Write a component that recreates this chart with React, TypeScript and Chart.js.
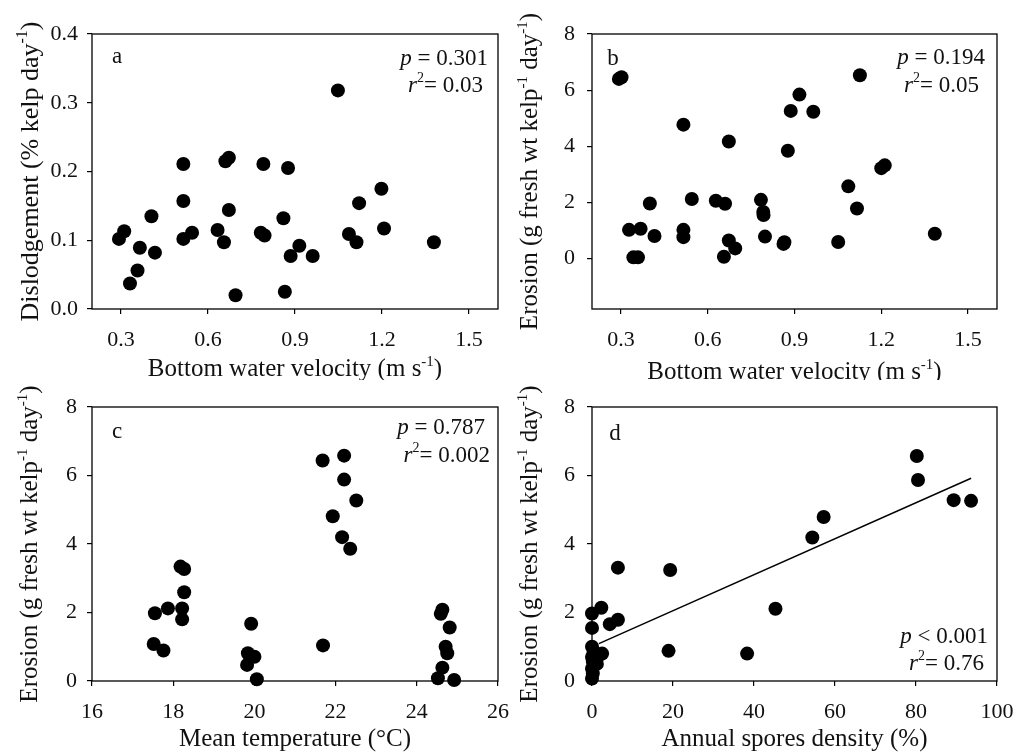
import React, { useEffect, useRef } from "react";
import { Chart, registerables } from "chart.js";

Chart.register(...registerables);

const FONT = '"Liberation Serif", "Times New Roman", serif';

// (a) dislodgement vs bottom water velocity
const aVelocity = [0.293, 0.311, 0.331, 0.357, 0.365, 0.405, 0.417, 0.515, 0.515, 0.515, 0.545, 0.633, 0.655, 0.66, 0.672, 0.672, 0.695, 0.782, 0.795, 0.791, 0.86, 0.876, 0.865, 0.885, 0.915, 0.961, 1.048, 1.086, 1.112, 1.121, 1.198, 1.207, 1.379];
const aDislodgement = [0.102, 0.113, 0.037, 0.056, 0.089, 0.135, 0.082, 0.211, 0.157, 0.102, 0.111, 0.115, 0.097, 0.215, 0.22, 0.144, 0.02, 0.111, 0.107, 0.211, 0.132, 0.205, 0.025, 0.077, 0.092, 0.077, 0.318, 0.109, 0.097, 0.154, 0.175, 0.117, 0.097];

// (b) erosion vs bottom water velocity
const bVelocity = [0.293, 0.302, 0.328, 0.343, 0.359, 0.368, 0.4, 0.416, 0.516, 0.516, 0.516, 0.545, 0.628, 0.66, 0.673, 0.656, 0.673, 0.695, 0.784, 0.792, 0.793, 0.798, 0.862, 0.865, 0.877, 0.887, 0.917, 0.965, 1.051, 1.086, 1.116, 1.126, 1.2, 1.212, 1.385];
const bErosion = [6.4, 6.46, 1.02, 0.04, 0.04, 1.06, 1.96, 0.8, 4.77, 1.02, 0.76, 2.12, 2.06, 1.95, 4.17, 0.06, 0.64, 0.36, 2.09, 1.66, 1.55, 0.78, 0.52, 0.58, 3.84, 5.26, 5.84, 5.23, 0.59, 2.57, 1.78, 6.53, 3.22, 3.32, 0.88];

// (c) erosion vs mean temperature
const cTemperature = [17.52, 17.76, 17.55, 17.87, 18.22, 18.22, 18.27, 18.18, 18.27, 19.92, 19.84, 19.82, 20.0, 20.06, 21.68, 22.21, 22.21, 22.51, 21.93, 22.16, 22.36, 21.69, 24.63, 24.59, 24.81, 24.71, 24.75, 24.63, 24.52, 24.92];
const cErosion = [1.08, 0.89, 1.98, 2.12, 2.12, 1.8, 2.59, 3.34, 3.27, 1.67, 0.81, 0.47, 0.71, 0.05, 6.44, 6.58, 5.88, 5.27, 4.81, 4.2, 3.86, 1.04, 2.08, 1.96, 1.56, 1.0, 0.81, 0.39, 0.08, 0.03];

// (d) erosion vs annual spores density
const dSpores = [0, 0, 0.2, 0, 1.2, 2.5, 0, 0, 0, 2.3, 4.4, 6.4, 6.4, 18.9, 19.3, 38.3, 45.3, 54.4, 57.2, 80.2, 80.5, 89.3, 93.6, 0.2, 1.2, 0.4];
const dErosion = [0.07, 0.36, 0.56, 0.7, 0.65, 0.8, 1.0, 1.55, 1.97, 2.14, 1.66, 1.79, 3.31, 0.88, 3.24, 0.8, 2.11, 4.19, 4.79, 6.57, 5.87, 5.28, 5.26, 0.22, 0.5, 0.85];
const dFitX = [1.7, 93.6];
const dFitY = [1.09, 5.92];

// tick labels
const velocityTicks = [0.3, 0.6, 0.9, 1.2, 1.5];
const dislodgementTicks = [0, 0.1, 0.2, 0.3, 0.4];
const erosionTicks = [0, 2, 4, 6, 8];
const temperatureTicks = [16, 18, 20, 22, 24, 26];
const sporesTicks = [0, 20, 40, 60, 80, 100];

type Seg = { t: string; it?: boolean; sup?: boolean };

const TICK_SIZE = 22;
const TITLE_SIZE = 25;
const NOTE_SIZE = 23;

function segFont(s: Seg, size: number) {
  const px = s.sup ? Math.round(size * 0.6) : size;
  return `${s.it ? "italic " : ""}${px}px ${FONT}`;
}

// draws a run of text pieces (italic / superscript) on a baseline through (x, y)
function drawRich(
  ctx: CanvasRenderingContext2D,
  segs: Seg[],
  x: number,
  y: number,
  size: number,
  align: "left" | "center" | "right",
  rotate = 0
) {
  ctx.save();
  ctx.translate(x, y);
  if (rotate) ctx.rotate(rotate);
  let w = 0;
  for (const s of segs) {
    ctx.font = segFont(s, size);
    w += ctx.measureText(s.t).width;
  }
  let cx = align === "left" ? 0 : align === "center" ? -w / 2 : -w;
  ctx.textBaseline = "alphabetic";
  ctx.textAlign = "left";
  ctx.fillStyle = "#111";
  for (const s of segs) {
    ctx.font = segFont(s, size);
    ctx.fillText(s.t, cx, s.sup ? -size * 0.42 : 0);
    cx += ctx.measureText(s.t).width;
  }
  ctx.restore();
}

interface Panel {
  pos: { left: number; top: number; width: number; height: number };
  area: { left: number; top: number; right: number; bottom: number };
  xs: number[];
  ys: number[];
  fitX?: number[];
  fitY?: number[];
  xMin: number;
  xMax: number;
  xTicks: number[];
  xFmt: (v: number) => string;
  yMin: number;
  yMax: number;
  yTicks: number[];
  yFmt: (v: number) => string;
  yPad: number;
  letter: string;
  letterPos: [number, number];
  stats: { segs: Seg[]; x: number; y: number }[];
  xTitle: Seg[];
  xTitleY: number;
  yTitle: Seg[];
  yTitleX: number;
  yTitleSize: number;
}

const velocityTitle: Seg[] = [{ t: "Bottom water velocity (m s" }, { t: "-1", sup: true }, { t: ")" }];
const erosionTitle: Seg[] = [
  { t: "Erosion (g fresh wt kelp" },
  { t: "-1", sup: true },
  { t: " day" },
  { t: "-1", sup: true },
  { t: ")" },
];

const fix1 = (v: number) => v.toFixed(1);
const int = (v: number) => String(Math.round(v));

const panels: Panel[] = [
  {
    pos: { left: 0, top: 0, width: 510, height: 380 },
    area: { left: 92, top: 34, right: 498, bottom: 309 },
    xs: aVelocity,
    ys: aDislodgement,
    xMin: 0.2,
    xMax: 1.6,
    xTicks: velocityTicks,
    xFmt: fix1,
    yMin: 0,
    yMax: 0.4,
    yTicks: dislodgementTicks,
    yFmt: fix1,
    yPad: 9,
    letter: "a",
    letterPos: [117, 63],
    stats: [
      { segs: [{ t: "p", it: true }, { t: " = 0.301" }], x: 488, y: 65 },
      { segs: [{ t: "r", it: true }, { t: "2", sup: true }, { t: "= 0.03" }], x: 483, y: 92 },
    ],
    xTitle: velocityTitle,
    xTitleY: 376,
    yTitle: [{ t: "Dislodgement (% kelp day" }, { t: "-1", sup: true }, { t: ")" }],
    yTitleX: 38,
    yTitleSize: 26,
  },
  {
    pos: { left: 510, top: 0, width: 509, height: 380 },
    area: { left: 82, top: 34, right: 487, bottom: 309 },
    xs: bVelocity,
    ys: bErosion,
    xMin: 0.2,
    xMax: 1.6,
    xTicks: velocityTicks,
    xFmt: fix1,
    yMin: -1.8,
    yMax: 8,
    yTicks: erosionTicks,
    yFmt: int,
    yPad: 12,
    letter: "b",
    letterPos: [103, 65],
    stats: [
      { segs: [{ t: "p", it: true }, { t: " = 0.194" }], x: 475, y: 64 },
      { segs: [{ t: "r", it: true }, { t: "2", sup: true }, { t: "= 0.05" }], x: 469, y: 92 },
    ],
    xTitle: velocityTitle,
    xTitleY: 379,
    yTitle: erosionTitle,
    yTitleX: 27,
    yTitleSize: 25,
  },
  {
    pos: { left: 0, top: 380, width: 510, height: 376 },
    area: { left: 92, top: 27, right: 498, bottom: 301 },
    xs: cTemperature,
    ys: cErosion,
    xMin: 16,
    xMax: 26,
    xTicks: temperatureTicks,
    xFmt: int,
    yMin: 0,
    yMax: 8,
    yTicks: erosionTicks,
    yFmt: int,
    yPad: 10,
    letter: "c",
    letterPos: [117, 58],
    stats: [
      { segs: [{ t: "p", it: true }, { t: " = 0.787" }], x: 485, y: 54 },
      { segs: [{ t: "r", it: true }, { t: "2", sup: true }, { t: "= 0.002" }], x: 490, y: 82 },
    ],
    xTitle: [{ t: "Mean temperature (°C)" }],
    xTitleY: 366,
    yTitle: erosionTitle,
    yTitleX: 37,
    yTitleSize: 25,
  },
  {
    pos: { left: 510, top: 380, width: 509, height: 376 },
    area: { left: 82, top: 27, right: 487, bottom: 301 },
    xs: dSpores,
    ys: dErosion,
    fitX: dFitX,
    fitY: dFitY,
    xMin: 0,
    xMax: 100,
    xTicks: sporesTicks,
    xFmt: int,
    yMin: 0,
    yMax: 8,
    yTicks: erosionTicks,
    yFmt: int,
    yPad: 12,
    letter: "d",
    letterPos: [105, 60],
    stats: [
      { segs: [{ t: "p", it: true }, { t: " < 0.001" }], x: 478, y: 263 },
      { segs: [{ t: "r", it: true }, { t: "2", sup: true }, { t: "= 0.76" }], x: 474, y: 290 },
    ],
    xTitle: [{ t: "Annual spores density (%)" }],
    xTitleY: 366,
    yTitle: erosionTitle,
    yTitleX: 27,
    yTitleSize: 25,
  },
];

function PanelChart({ p }: { p: Panel }) {
  const ref = useRef<HTMLCanvasElement | null>(null);

  useEffect(() => {
    const canvas = ref.current;
    if (!canvas) return;

    const decorations = {
      id: "decorations",
      afterDraw(chart: Chart) {
        const ctx = chart.ctx;
        const a = chart.chartArea;
        ctx.save();
        ctx.strokeStyle = "#000";
        ctx.lineWidth = 1.3;
        ctx.strokeRect(a.left, a.top, a.right - a.left, a.bottom - a.top);
        ctx.restore();

        drawRich(ctx, [{ t: p.letter }], p.letterPos[0], p.letterPos[1], NOTE_SIZE, "center");
        for (const s of p.stats) drawRich(ctx, s.segs, s.x, s.y, NOTE_SIZE, "right");
        drawRich(ctx, p.xTitle, (a.left + a.right) / 2, p.xTitleY, TITLE_SIZE, "center");
        drawRich(ctx, p.yTitle, p.yTitleX, (a.top + a.bottom) / 2, p.yTitleSize, "center", -Math.PI / 2);
      },
    };

    const datasets: any[] = [
      {
        data: p.xs.map((x, i) => ({ x, y: p.ys[i] })),
        pointRadius: 7,
        pointHoverRadius: 7,
        backgroundColor: "#000",
        borderWidth: 0,
        clip: false,
      },
    ];
    if (p.fitX && p.fitY) {
      datasets.push({
        data: p.fitX.map((x, i) => ({ x, y: p.fitY![i] })),
        showLine: true,
        pointRadius: 0,
        borderColor: "#000",
        borderWidth: 1.4,
        clip: false,
      });
    }

    const grid = {
      display: true,
      drawOnChartArea: false,
      drawTicks: true,
      tickLength: 5,
      color: "#000",
      lineWidth: 1.2,
    };

    const chart = new Chart(canvas, {
      type: "scatter",
      data: { datasets },
      plugins: [decorations],
      options: {
        animation: false,
        responsive: false,
        devicePixelRatio: 1,
        events: [],
        layout: {
          padding: {
            left: 0,
            top: p.area.top,
            right: p.pos.width - p.area.right,
            bottom: 0,
          },
        },
        plugins: { legend: { display: false }, tooltip: { enabled: false } },
        scales: {
          x: {
            type: "linear",
            min: p.xMin,
            max: p.xMax,
            grid,
            border: { display: false },
            afterBuildTicks: (s: any) => {
              s.ticks = p.xTicks.map((v) => ({ value: v }));
            },
            afterFit: (s: any) => {
              s.height = p.pos.height - p.area.bottom;
              s.paddingLeft = 0;
              s.paddingRight = 0;
            },
            ticks: {
              color: "#111",
              padding: 13,
              maxRotation: 0,
              autoSkip: false,
              font: { family: FONT, size: TICK_SIZE },
              callback: (v: any) => p.xFmt(Number(v)),
            },
          },
          y: {
            type: "linear",
            min: p.yMin,
            max: p.yMax,
            grid,
            border: { display: false },
            afterBuildTicks: (s: any) => {
              s.ticks = p.yTicks.map((v) => ({ value: v }));
            },
            afterFit: (s: any) => {
              s.width = p.area.left;
              s.paddingTop = 0;
              s.paddingBottom = 0;
            },
            ticks: {
              color: "#111",
              padding: p.yPad,
              autoSkip: false,
              font: { family: FONT, size: TICK_SIZE },
              callback: (v: any) => p.yFmt(Number(v)),
            },
          },
        },
      } as any,
    });

    return () => chart.destroy();
  }, [p]);

  return (
    <canvas
      ref={ref}
      width={p.pos.width}
      height={p.pos.height}
      style={{
        position: "absolute",
        left: p.pos.left,
        top: p.pos.top,
        width: p.pos.width,
        height: p.pos.height,
      }}
    />
  );
}

export default function App() {
  return (
    <div
      style={{
        position: "fixed",
        left: 0,
        top: 0,
        width: 1019,
        height: 756,
        background: "#fff",
        overflow: "hidden",
      }}
    >
      {panels.map((p) => (
        <PanelChart key={p.letter} p={p} />
      ))}
    </div>
  );
}
